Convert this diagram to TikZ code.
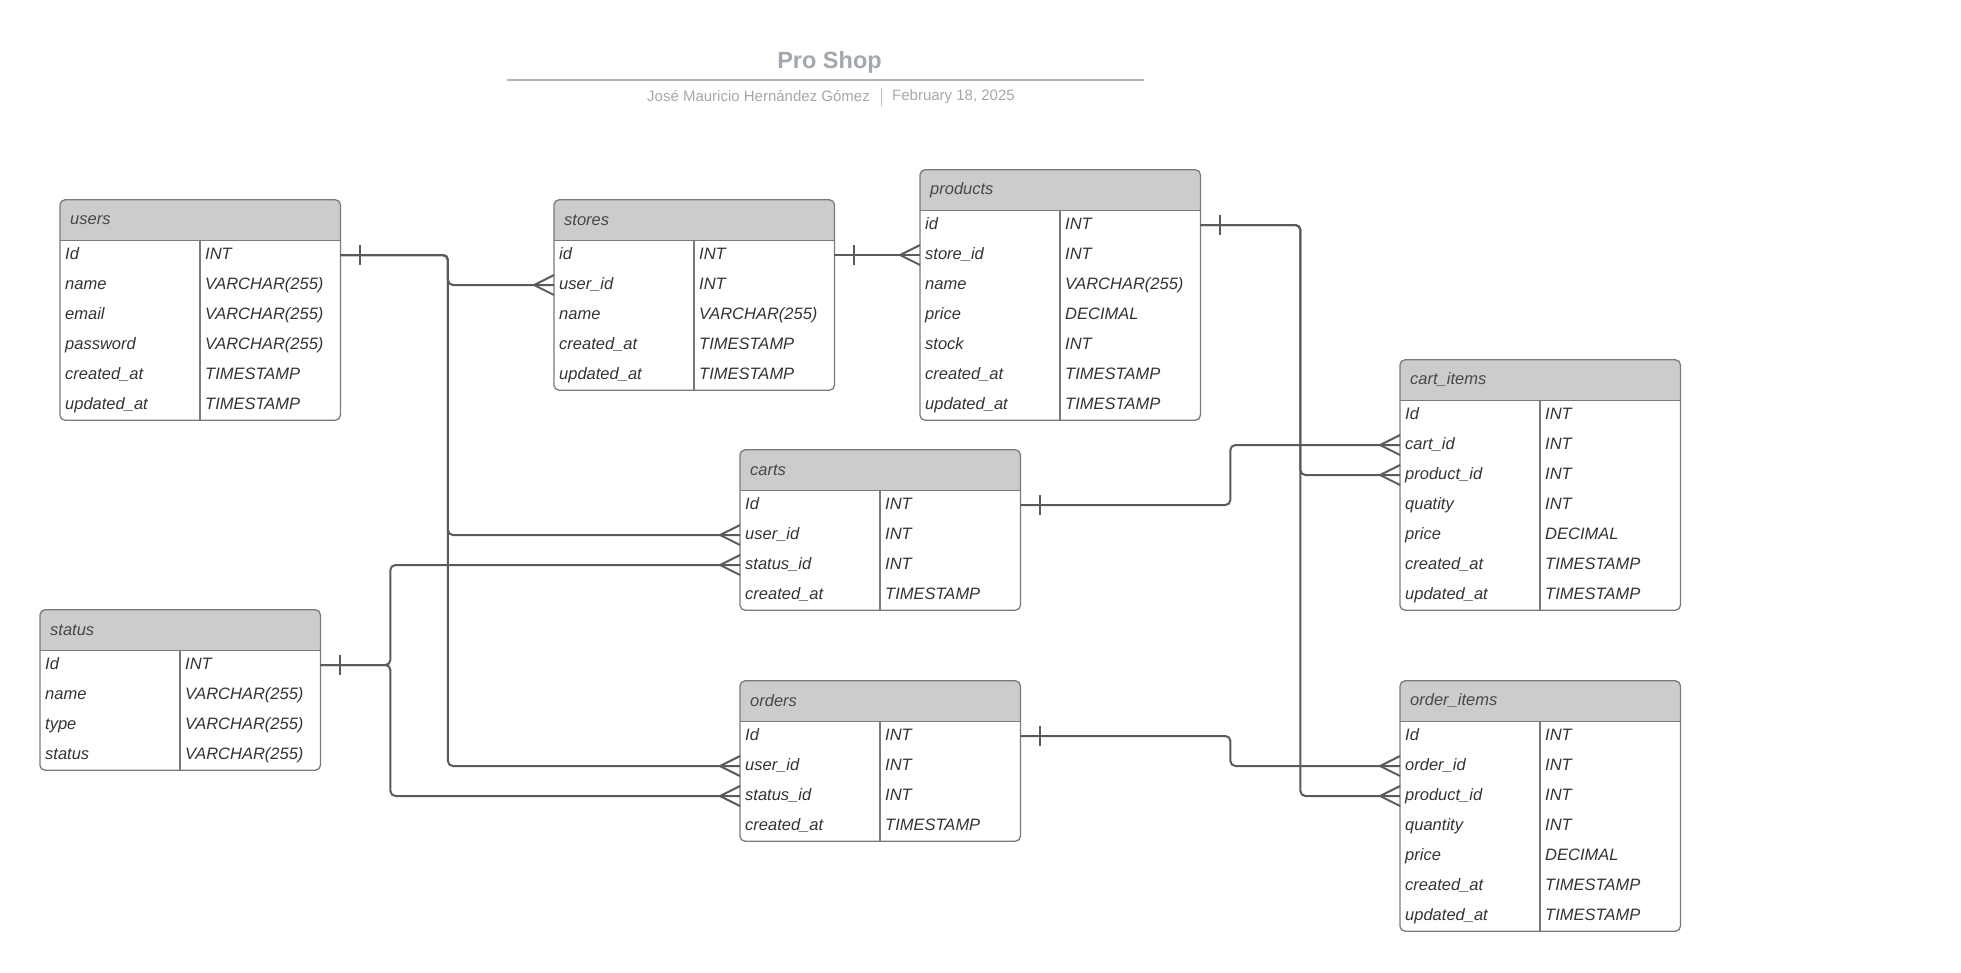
\documentclass[tikz,border=0pt]{standalone}
\usepackage{fontspec}
\setmainfont{Liberation Sans}
\usetikzlibrary{calc,positioning}
\definecolor{linegray}{HTML}{5A5A5A}
\definecolor{framegray}{HTML}{7A7A7A}
\definecolor{headgray}{HTML}{CCCCCC}
\definecolor{textgray}{HTML}{333333}
\definecolor{titlegray}{HTML}{A3A8AE}
\newcommand{\cellfont}{\fontsize{16.5}{20}\selectfont\itshape}

\tikzset{
  headcell/.style={anchor=west, minimum width=280pt, minimum height=40pt,
    text width=260pt, inner xsep=10pt, inner ysep=0pt, align=left,
    text=textgray!90, font=\cellfont},
  rowcell/.style={anchor=west, minimum width=280pt, minimum height=30pt,
    text width=270pt, inner xsep=5pt, inner ysep=0pt, align=left,
    text height=12pt, text depth=4pt, text=textgray, font=\cellfont},
  typecell/.style={anchor=west, inner xsep=5pt, inner ysep=0pt,
    text height=12pt, text depth=4pt, text=textgray, font=\cellfont},
  tableline/.style={draw=framegray, line width=1.3pt},
  rel/.style={draw=linegray, line width=2pt, rounded corners=5pt},
}

% table: name, title, top-left corner, field/type list
\newcommand{\erentity}[4]{%
  \coordinate (#1-nw) at #3;
  \fill[headgray, rounded corners=5pt] (#1-nw) rectangle ($(#1-nw)+(280,40)$);
  \fill[headgray] ($(#1-nw)+(0,20)$) rectangle ($(#1-nw)+(280,40)$);
  \node[headcell] (#1) at ($(#1-nw)+(0,20)$) {#2};
  \foreach \fld/\typ [count=\i] in {#4} {
    \node[rowcell] (#1-\i) at ($(#1-nw)+(0,25+30*\i)$) {\fld};
    \node[typecell] (#1-\i-t) at ($(#1-\i.west)+(140,0)$) {\typ};
    \xdef\nrows{\i}
  }
  \draw[tableline, rounded corners=5pt] (#1.north west) rectangle (#1-\nrows.south east);
  \draw[tableline] (#1.south west) -- (#1.south east);
  \draw[tableline] ($(#1.south west)+(140,0)$) -- ($(#1-\nrows.south west)+(140,0)$);
}
\newcommand{\onebar}[1]{\draw[rel] ($(#1)+(20,-10)$) -- ($(#1)+(20,10)$);}
\newcommand{\crowfoot}[1]{\draw[rel, sharp corners] ($(#1)+(0,-10)$) -- ($(#1)+(-20,0)$) -- ($(#1)+(0,10)$);}

\begin{document}
\begin{tikzpicture}[x=1pt, y=-1pt]
  \useasboundingbox (0,0) rectangle (1961,972);

  % heading
  \node (title) at (829.5,62) [text=titlegray, font=\fontsize{23.5}{28}\selectfont\bfseries] {Pro Shop};
  \draw[titlegray!85, line width=2pt] (507,80) -- (1144,80);
  \node (author) at (870,96.5) [anchor=east, inner sep=0pt, text=titlegray, font=\fontsize{15}{18}\selectfont]
        {José Mauricio Hernández Gómez};
  \node (date) at (892,96.5) [anchor=west, inner sep=0pt, text=titlegray, font=\fontsize{15}{18}\selectfont]
        {February 18, 2025};
  \draw[titlegray!70, line width=1pt] ($(author.east)!0.5!(date.west)+(0,-9)$) -- ($(author.east)!0.5!(date.west)+(0,9)$);

  % tables
  \erentity{users}{users}{(60,200)}{Id/INT, name/VARCHAR(255), email/VARCHAR(255),
    password/VARCHAR(255), created\_at/TIMESTAMP, updated\_at/TIMESTAMP}
  \erentity{stores}{stores}{(554,200)}{id/INT, user\_id/INT, name/VARCHAR(255),
    created\_at/TIMESTAMP, updated\_at/TIMESTAMP}
  \erentity{products}{products}{(920,170)}{id/INT, store\_id/INT, name/VARCHAR(255),
    price/DECIMAL, stock/INT, created\_at/TIMESTAMP, updated\_at/TIMESTAMP}
  \erentity{carts}{carts}{(740,450)}{Id/INT, user\_id/INT, status\_id/INT, created\_at/TIMESTAMP}
  \erentity{status}{status}{(40,610)}{Id/INT, name/VARCHAR(255), type/VARCHAR(255), status/VARCHAR(255)}
  \erentity{orders}{orders}{(740,681)}{Id/INT, user\_id/INT, status\_id/INT, created\_at/TIMESTAMP}
  \erentity{cartitems}{cart\_items}{(1400,360)}{Id/INT, cart\_id/INT, product\_id/INT, quatity/INT,
    price/DECIMAL, created\_at/TIMESTAMP, updated\_at/TIMESTAMP}
  \erentity{orderitems}{order\_items}{(1400,681)}{Id/INT, order\_id/INT, product\_id/INT, quantity/INT,
    price/DECIMAL, created\_at/TIMESTAMP, updated\_at/TIMESTAMP}

  % relations
  \draw[rel] (users-1.east) -- ++(107.5,0) |- (stores-2.west);
  \draw[rel] (users-1.east) -- ++(107.5,0) |- (carts-2.west);
  \draw[rel] (users-1.east) -- ++(107.5,0) |- (orders-2.west);
  \draw[rel] (stores-1.east) -- (products-2.west);
  \draw[rel] (products-1.east) -- ++(100,0) |- (cartitems-3.west);
  \draw[rel] (products-1.east) -- ++(100,0) |- (orderitems-3.west);
  \draw[rel] (carts-1.east) -- ++(210,0) |- (cartitems-2.west);
  \draw[rel] (orders-1.east) -- ++(210,0) |- (orderitems-2.west);
  \draw[rel] (status-1.east) -- ++(70,0) |- (carts-3.west);
  \draw[rel] (status-1.east) -- ++(70,0) |- (orders-3.west);

  \foreach \one in {users-1, stores-1, products-1, carts-1, orders-1, status-1}
    \onebar{\one.east};
  \foreach \many in {stores-2, products-2, carts-2, carts-3, orders-2, orders-3,
                     cartitems-2, cartitems-3, orderitems-2, orderitems-3}
    \crowfoot{\many.west};

\end{tikzpicture}
\end{document}
